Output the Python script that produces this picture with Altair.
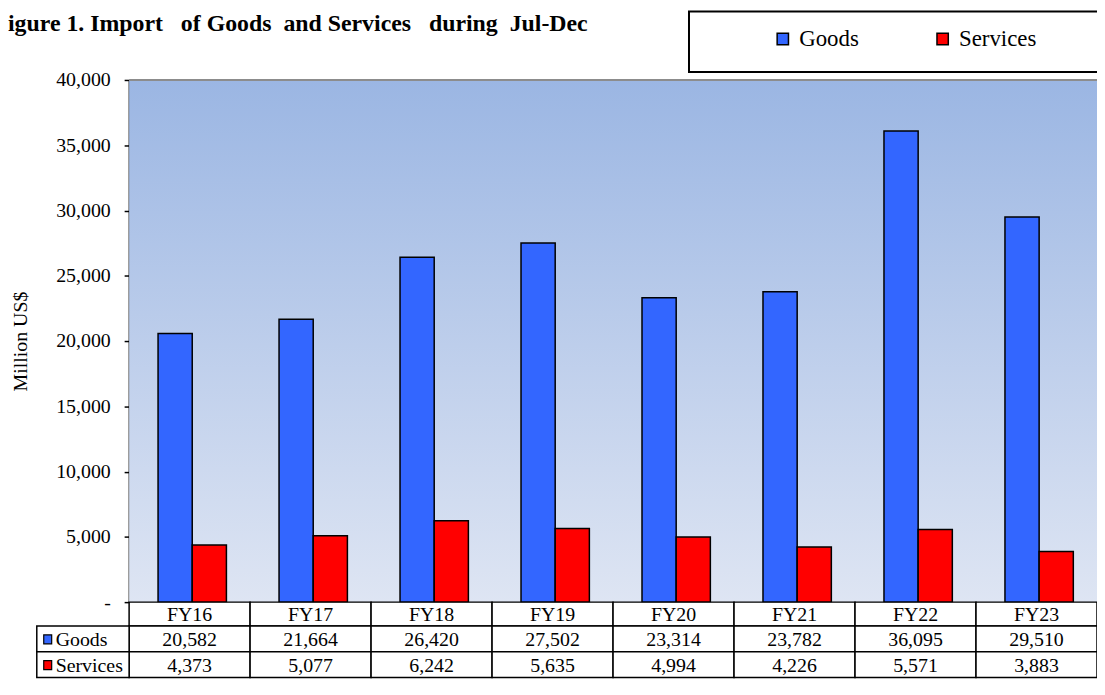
import altair as alt
import pandas as pd

categories = ["FY16", "FY17", "FY18", "FY19", "FY20", "FY21", "FY22", "FY23"]
goods = [20582, 21664, 26420, 27502, 23314, 23782, 36095, 29510]
services = [4373, 5077, 6242, 5635, 4994, 4226, 5571, 3883]
series_names = ["Goods", "Services"]
series_colors = ["#3366FF", "#FF0000"]
y_ticks = [0, 5000, 10000, 15000, 20000, 25000, 30000, 35000, 40000]
NB = "\u00a0"
title_text = ("igure 1." + NB + "Import" + NB * 2 + " of Goods" + NB + " and Services"
              + NB * 2 + " during" + NB + " Jul-Dec")

W, H = 975, 526
FONT = "Liberation Serif"

rows = []
for c, g, s in zip(categories, goods, services):
    rows.append({"cat": c, "series": "Goods", "value": g, "label": f"{g:,}"})
    rows.append({"cat": c, "series": "Services", "value": s, "label": f"{s:,}"})
df = pd.DataFrame(rows)
cat_df = pd.DataFrame({"cat": categories})

xscale = alt.Scale(domain=categories, paddingInner=0, paddingOuter=0)
xenc = alt.X("cat:N", scale=xscale, axis=None, sort=categories)

one = alt.Data(values=[{}])

bg = alt.Chart(one).mark_rect(
    fill=alt.LinearGradient(
        gradient="linear", x1=0, x2=0, y1=0, y2=1,
        stops=[alt.GradientStop(color="#9BB6E3", offset=0),
               alt.GradientStop(color="#DEE5F3", offset=1)],
    )
).encode(x=alt.value(0), x2=alt.value(W), y=alt.value(0), y2=alt.value(H))

top_border = alt.Chart(one).mark_rule(color="#8C8C8C", strokeWidth=2).encode(
    x=alt.value(0), x2=alt.value(W), y=alt.value(0)
)

bars = alt.Chart(df).mark_bar(stroke="black", strokeWidth=1.5).encode(
    x=xenc,
    xOffset=alt.XOffset("series:N", sort=series_names,
                        scale=alt.Scale(paddingInner=0, paddingOuter=0.77, align=0.55)),
    y=alt.Y("value:Q",
            scale=alt.Scale(domain=[0, 40000], nice=False),
            axis=alt.Axis(values=y_ticks, grid=False,
                          labelExpr="datum.value == 0 ? '-' : format(datum.value, ',')",
                          labelFont=FONT, labelFontSize=20, labelColor="black",
                          labelPadding=14, tickSize=5, tickColor="black", tickWidth=1.5,
                          domainColor="black", domainWidth=2,
                          title="Million US$", titleFont=FONT, titleFontSize=20,
                          titleFontWeight="normal", titleColor="black", titlePadding=25)),
    color=alt.Color("series:N",
                    scale=alt.Scale(domain=series_names, range=series_colors),
                    legend=alt.Legend(orient="none", direction="horizontal",
                                      legendX=647, legendY=-53, title=None,
                                      symbolType="square", symbolSize=130,
                                      symbolStrokeColor="black", symbolStrokeWidth=1.5,
                                      symbolOpacity=1,
                                      labelFont=FONT, labelFontSize=23, labelColor="black",
                                      labelOffset=5, columnPadding=72, padding=0)),
)

# Legend frame
legend_box = alt.Chart(one).mark_rect(fill="white", stroke="black", strokeWidth=2).encode(
    x=alt.value(564), x2=alt.value(W + 10), y=alt.value(-69), y2=alt.value(-8)
)

title = alt.Chart(one).mark_text(
    text=title_text, font=FONT, fontSize=24, fontWeight="bold", align="left",
    baseline="middle", color="black"
).encode(x=alt.value(-122), y=alt.value(-56))

# Table
hdr_cells = alt.Chart(cat_df).mark_rect(fill="white", stroke="black", strokeWidth=1.5).encode(
    x=xenc, y=alt.value(H), y2=alt.value(H + 24)
)
hdr_text = alt.Chart(cat_df).mark_text(font=FONT, fontSize=20, color="black", baseline="middle").encode(
    x=xenc, y=alt.value(H + 13), text="cat:N"
)

layers = [bg, top_border, bars, legend_box, title, hdr_cells, hdr_text]

row_top = {"Goods": H + 24, "Services": H + 50}
for sname, scol in zip(series_names, series_colors):
    y0 = row_top[sname]
    sub = df[df.series == sname]
    layers.append(alt.Chart(sub).mark_rect(fill="white", stroke="black", strokeWidth=1.5).encode(
        x=xenc, y=alt.value(y0), y2=alt.value(y0 + 26)))
    layers.append(alt.Chart(sub).mark_text(font=FONT, fontSize=20, color="black", baseline="middle").encode(
        x=xenc, y=alt.value(y0 + 14), text="label:N"))
    lab = pd.DataFrame({"name": [sname]})
    layers.append(alt.Chart(lab).mark_rect(fill="white", stroke="black", strokeWidth=1.5).encode(
        x=alt.value(-93), x2=alt.value(0), y=alt.value(y0), y2=alt.value(y0 + 26)))
    layers.append(alt.Chart(lab).mark_rect(fill=scol, stroke="black", strokeWidth=1.2).encode(
        x=alt.value(-86), x2=alt.value(-78), y=alt.value(y0 + 9), y2=alt.value(y0 + 18)))
    layers.append(alt.Chart(lab).mark_text(font=FONT, fontSize=20, color="black", align="left",
                                           baseline="middle").encode(
        x=alt.value(-74), y=alt.value(y0 + 14), text="name:N"))

chart = alt.layer(*layers).properties(
    width=W, height=H,
    autosize=alt.AutoSizeParams(type="none"),
    padding={"left": 122, "top": 70, "right": 0, "bottom": 82},
).configure_view(stroke=None).configure(background="white", font=FONT)

chart.save("out.html", embed_options={"renderer": "svg", "actions": False})
